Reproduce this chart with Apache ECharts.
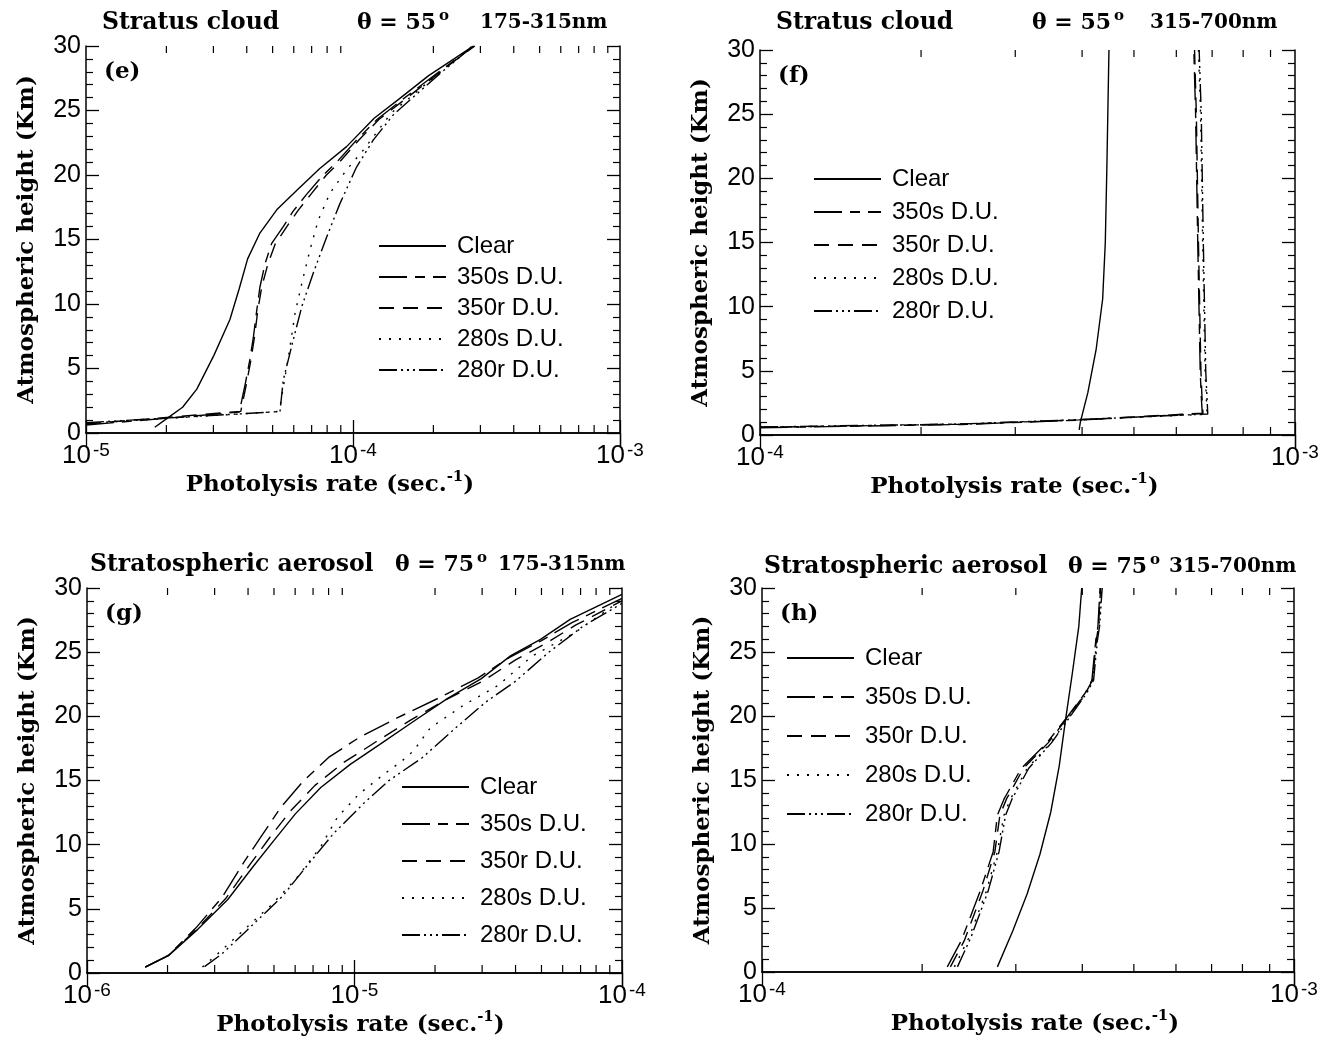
<!DOCTYPE html>
<html><head><meta charset="utf-8">
<script src="https://cdn.jsdelivr.net/npm/echarts@6/dist/echarts.min.js"></script>
<style>html,body{margin:0;padding:0;background:#fff}#c{width:1335px;height:1045px}</style>
</head><body><div id="c"></div>
<script>
// ---------- DATA ([photolysis rate, height km]) ----------
const seriesNames = ['Clear', '350s D.U.', '350r D.U.', '280s D.U.', '280r D.U.'];
const yTickLabels = [0, 5, 10, 15, 20, 25, 30];

// (e) Stratus cloud, 55 deg, 175-315nm
const e_clear = [[1.81e-5,0.45],[2.0e-5,1.1],[2.3e-5,2.0],[2.6e-5,3.4],[3.01e-5,6.0],[3.46e-5,8.8],[3.75e-5,11.2],[4.03e-5,13.5],[4.48e-5,15.5],[5.18e-5,17.3],[6.15e-5,18.8],[7.51e-5,20.5],[9.46e-5,22.2],[1.2e-4,24.4],[1.49e-4,25.9],[1.92e-4,27.7],[2.39e-4,29.0],[2.82e-4,30]];
const e_350s = [[1.0e-5,0.62],[3.75e-5,1.62],[3.8e-5,1.75],[3.94e-5,3.7],[4.11e-5,5.7],[4.24e-5,7.5],[4.36e-5,9.5],[4.48e-5,11.3],[4.68e-5,13.1],[4.96e-5,14.7],[5.48e-5,16.0],[5.97e-5,17.2],[6.7e-5,18.5],[7.74e-5,20.0],[8.69e-5,21.0],[1.03e-4,22.7],[1.23e-4,24.3],[1.52e-4,25.8],[1.95e-4,27.5],[2.4e-4,28.9],[2.84e-4,30]];
const e_350r = [[1.0e-5,0.7],[3.8e-5,1.68],[3.85e-5,1.8],[3.98e-5,3.7],[4.15e-5,5.7],[4.28e-5,7.5],[4.4e-5,9.5],[4.55e-5,11.3],[4.8e-5,13.1],[5.1e-5,14.6],[5.65e-5,16.0],[6.2e-5,17.2],[6.95e-5,18.5],[7.95e-5,20.0],[8.9e-5,21.0],[1.05e-4,22.7],[1.25e-4,24.3],[1.55e-4,25.8],[1.98e-4,27.5],[2.42e-4,28.9],[2.86e-4,30]];
const e_280s = [[1.0e-5,0.75],[5.18e-5,1.65],[5.33e-5,2.04],[5.73e-5,5.9],[6.07e-5,9.3],[6.43e-5,11.6],[6.9e-5,14.2],[7.41e-5,16.5],[8.2e-5,18.6],[9.46e-5,20.4],[1.09e-4,21.9],[1.39e-4,24.8],[1.72e-4,26.4],[2.07e-4,27.8],[2.8e-4,30]];
const e_280r = [[1.0e-5,0.8],[5.2e-5,1.65],[5.33e-5,1.7],[5.48e-5,4.1],[5.97e-5,7.2],[6.43e-5,9.8],[7.1e-5,12.4],[7.97e-5,15.2],[8.94e-5,17.8],[1.03e-4,20.6],[1.19e-4,22.7],[1.42e-4,24.7],[1.76e-4,26.4],[2.1e-4,27.8],[2.82e-4,30]];

// (f) Stratus cloud, 55 deg, 315-700nm
const f_clear = [[3.95e-4,0.4],[3.97e-4,1.0],[4.1e-4,3.3],[4.25e-4,6.7],[4.37e-4,10.6],[4.42e-4,15.0],[4.45e-4,20.9],[4.49e-4,30]];
const f_350s = [[1.0e-4,0.57],[2.38e-4,0.82],[3.95e-4,1.16],[6.71e-4,1.68],[6.68e-4,3.0],[6.65e-4,5.0],[6.58e-4,15.0],[6.52e-4,25.0],[6.47e-4,30]];
const f_350r = [[1.0e-4,0.6],[2.38e-4,0.84],[3.95e-4,1.18],[6.73e-4,1.7],[6.7e-4,3.0],[6.67e-4,5.0],[6.6e-4,15.0],[6.54e-4,25.0],[6.49e-4,30]];
const f_280s = [[1.0e-4,0.6],[2.38e-4,0.85],[3.95e-4,1.18],[6.85e-4,1.62],[6.84e-4,1.75],[6.79e-4,5.0],[6.72e-4,15.0],[6.66e-4,25.0],[6.6e-4,30]];
const f_280r = [[1.0e-4,0.62],[2.38e-4,0.86],[3.95e-4,1.2],[6.87e-4,1.64],[6.86e-4,1.75],[6.81e-4,5.0],[6.74e-4,15.0],[6.68e-4,25.0],[6.62e-4,30]];

// (g) Stratospheric aerosol, 75 deg, 175-315nm
const g_clear = [[1.65e-6,0.46],[2.02e-6,1.36],[2.6e-6,3.42],[3.36e-6,5.73],[4.18e-6,8.3],[5.01e-6,10.35],[6.01e-6,12.4],[7.48e-6,14.46],[9.64e-6,16.26],[1.24e-5,17.8],[1.66e-5,19.6],[2.23e-5,21.4],[2.98e-5,22.94],[3.84e-5,24.73],[4.96e-5,26.0],[6.4e-5,27.56],[1.0e-4,29.5]];
const g_350s = [[1.65e-6,0.46],[2.02e-6,1.4],[2.55e-6,3.5],[3.2e-6,5.9],[3.85e-6,8.6],[4.5e-6,10.7],[5.3e-6,12.9],[6.4e-6,14.9],[8.0e-6,16.8],[1.05e-5,18.4],[1.45e-5,19.9],[2.1e-5,21.5],[2.9e-5,23.0],[3.8e-5,24.6],[5.0e-5,25.9],[6.5e-5,27.3],[1.0e-4,29.2]];
const g_350r = [[1.65e-6,0.46],[2.02e-6,1.38],[2.58e-6,3.45],[3.3e-6,5.8],[4.05e-6,8.4],[4.8e-6,10.5],[5.75e-6,12.6],[7.1e-6,14.6],[9.1e-6,16.4],[1.2e-5,18.0],[1.62e-5,19.7],[2.2e-5,21.3],[3.05e-5,22.8],[4.0e-5,24.4],[5.2e-5,25.7],[6.7e-5,27.1],[1.0e-4,29.0]];
const g_280s = [[2.7e-6,0.46],[3.12e-6,1.6],[3.88e-6,3.4],[4.83e-6,5.2],[6.01e-6,7.27],[7.48e-6,9.84],[8.64e-6,12.15],[1.04e-5,13.95],[1.29e-5,15.5],[1.5e-5,16.5],[1.66e-5,17.3],[1.92e-5,19.1],[2.57e-5,20.9],[3.44e-5,22.4],[4.62e-5,24.7],[6.64e-5,26.5],[1.0e-4,29.1]];
const g_280r = [[2.75e-6,0.5],[3.2e-6,1.5],[3.95e-6,3.3],[5.39e-6,6.0],[6.46e-6,8.04],[8.34e-6,10.86],[1.08e-5,13.2],[1.34e-5,14.97],[1.79e-5,16.77],[2.39e-5,19.1],[3.09e-5,21.1],[3.98e-5,22.7],[5.33e-5,25.0],[7.13e-5,27.0],[1.0e-4,28.8]];

// (h) Stratospheric aerosol, 75 deg, 315-700nm
const h_clear = [[2.77e-4,0.4],[2.96e-4,3.2],[3.15e-4,6.1],[3.33e-4,9.2],[3.49e-4,12.5],[3.62e-4,16.1],[3.72e-4,19.7],[3.83e-4,23.3],[3.94e-4,27.0],[3.99e-4,30]];
const h_350s = [[2.23e-4,0.4],[2.37e-4,2.45],[2.57e-4,6.3],[2.72e-4,9.4],[2.77e-4,12.25],[2.85e-4,13.5],[3.07e-4,15.9],[3.43e-4,17.9],[3.76e-4,20.0],[4.05e-4,21.8],[4.17e-4,22.8],[4.24e-4,25.9],[4.28e-4,27.0],[4.32e-4,30]];
const h_350r = [[2.26e-4,0.4],[2.4e-4,2.45],[2.6e-4,6.3],[2.74e-4,9.4],[2.8e-4,12.25],[2.88e-4,13.5],[3.1e-4,15.9],[3.45e-4,17.9],[3.77e-4,20.0],[4.06e-4,21.8],[4.18e-4,22.8],[4.25e-4,25.9],[4.29e-4,27.0],[4.33e-4,30]];
const h_280s = [[2.3e-4,0.4],[2.45e-4,2.7],[2.64e-4,6.3],[2.77e-4,9.4],[2.85e-4,12.25],[2.93e-4,13.5],[3.15e-4,15.9],[3.49e-4,17.9],[3.79e-4,20.0],[4.07e-4,21.8],[4.18e-4,22.8],[4.26e-4,25.9],[4.3e-4,27.0],[4.35e-4,30]];
const h_280r = [[2.33e-4,0.4],[2.47e-4,2.7],[2.66e-4,6.3],[2.79e-4,9.4],[2.87e-4,12.25],[2.95e-4,13.5],[3.17e-4,15.9],[3.5e-4,17.9],[3.8e-4,20.0],[4.08e-4,21.8],[4.2e-4,22.8],[4.27e-4,25.9],[4.31e-4,27.0],[4.36e-4,30]];

const xRanges = { e: [1e-5, 1e-3], f: [1e-4, 1e-3], g: [1e-6, 1e-4], h: [1e-4, 1e-3] };

// ---------- STYLE / LAYOUT ----------
const SANS = 'Liberation Sans';
const SERIF = 'DejaVu Serif';
const dashes = ['solid', [28, 8, 10, 8], [15, 9], [2, 8], [18, 4, 2, 4, 2, 4, 2, 4]];
const panels = [
  { key: 'e', data: [e_clear, e_350s, e_350r, e_280s, e_280r], grid: { left: 86, top: 46, width: 534, height: 387 },
    titles: [['{w|Stratus cloud}', 102], ['{a|θ = 55}{s|o}', 357], ['{n|175-315nm}', 480]], titleTop: 9,
    legend: { left: 378, top: 234, gap: 7 }, xnamePad: [0, 46, 0, 0] },
  { key: 'f', data: [f_clear, f_350s, f_350r, f_280s, f_280r], grid: { left: 760, top: 50, width: 535, height: 385 },
    titles: [['{w|Stratus cloud}', 776], ['{a|θ = 55}{s|o}', 1032], ['{n|315-700nm}', 1150]], titleTop: 9,
    legend: { left: 813, top: 167, gap: 9 }, xnamePad: [0, 26, 0, 0] },
  { key: 'g', data: [g_clear, g_350s, g_350r, g_280s, g_280r], grid: { left: 87, top: 588, width: 535, height: 385 },
    titles: [['{w|Stratospheric aerosol}', 90], ['{a|θ = 75}{s|o}', 395], ['{n|175-315nm}', 498]], titleTop: 551,
    legend: { left: 401, top: 775, gap: 13 }, xnamePad: [0, 0, 0, 12] },
  { key: 'h', data: [h_clear, h_350s, h_350r, h_280s, h_280r], grid: { left: 762, top: 588, width: 532, height: 384 },
    titles: [['{w|Stratospheric aerosol}', 764], ['{a|θ = 75}{s|o}', 1068], ['{n|315-700nm}', 1169]], titleTop: 553,
    legend: { left: 786, top: 646, gap: 15 }, xnamePad: [0, 0, 0, 14] }
];

const grids = [], xAxes = [], yAxes = [], series = [], titles = [], legends = [];
const titleRich = {
  w: { fontFamily: SERIF, fontWeight: 'bold', fontSize: 23.5, color: '#000', lineHeight: 28 },
  a: { fontFamily: SERIF, fontWeight: 'bold', fontSize: 22, color: '#000', lineHeight: 28 },
  n: { fontFamily: SERIF, fontWeight: 'bold', fontSize: 20, color: '#000', lineHeight: 28 },
  s: { fontFamily: SERIF, fontWeight: 'bold', fontSize: 15, color: '#000', lineHeight: 15, verticalAlign: 'top', padding: [0, 0, 0, 3] }
};
const xLabelRich = {
  b: { fontFamily: SANS, fontSize: 26, color: '#000', lineHeight: 30 },
  s: { fontFamily: SANS, fontSize: 19, color: '#000', lineHeight: 16, verticalAlign: 'top', padding: [0, 0, 0, 2] }
};
const nameRich = {
  n: { fontFamily: SERIF, fontWeight: 'bold', fontSize: 23, color: '#000', lineHeight: 30 },
  s: { fontFamily: SERIF, fontWeight: 'bold', fontSize: 15, color: '#000', lineHeight: 15, verticalAlign: 'top' }
};
const axisLine = { show: true, lineStyle: { color: '#000', width: 1.5 } };

panels.forEach((p, i) => {
  grids.push(Object.assign({ show: false, outerBoundsMode: 'none' }, p.grid));
  const [xmin, xmax] = xRanges[p.key];
  xAxes.push({
    type: 'log', logBase: 10, gridIndex: i, min: xmin, max: xmax, position: 'bottom',
    axisLine, splitLine: { show: false },
    axisTick: { show: true, inside: true, length: 13, lineStyle: { color: '#000', width: 1.3 } },
    axisLabel: { margin: 8, formatter: v => '{b|10}{s|' + Math.round(Math.log10(v)) + '}', rich: xLabelRich },
    name: '{n|Photolysis rate (sec.}{s|-1}{n|)}', nameLocation: 'middle', nameGap: 34,
    nameTextStyle: { rich: nameRich, padding: p.xnamePad }
  });
  xAxes.push({
    type: 'log', logBase: 10, gridIndex: i, min: xmin, max: xmax, position: 'top',
    axisLine, splitLine: { show: false }, axisLabel: { show: false },
    axisTick: { show: true, inside: true, length: 13, lineStyle: { color: '#000', width: 1.3 } }
  });
  const yBase = {
    type: 'value', gridIndex: i, min: 0, max: 30, interval: 5, axisLine, splitLine: { show: false },
    axisTick: { show: true, inside: true, length: 13, lineStyle: { color: '#000', width: 1.3 } },
    minorTick: { show: true, splitNumber: 5, length: 7, lineStyle: { color: '#000', width: 1.2 } },
    minorSplitLine: { show: false }
  };
  yAxes.push(Object.assign({}, yBase, {
    position: 'left',
    axisLabel: { margin: 5, fontFamily: SANS, fontSize: 25, color: '#000', formatter: v => yTickLabels.includes(v) ? String(v) : '' },
    name: 'Atmospheric height (Km)', nameLocation: 'middle', nameGap: 47, nameRotate: 90,
    nameTextStyle: { fontFamily: SERIF, fontWeight: 'bold', fontSize: 23, color: '#000' }
  }));
  yAxes.push(Object.assign({}, yBase, { position: 'right', axisLabel: { show: false } }));

  p.data.forEach((d, k) => {
    series.push({
      type: 'line', name: seriesNames[k], xAxisIndex: 2 * i, yAxisIndex: 2 * i, data: d,
      symbol: 'none', smooth: false, clip: true, animation: false,
      lineStyle: { color: '#000', width: 1.4, type: dashes[k] }, itemStyle: { color: '#000' }
    });
  });

  const minorVals = [];
  for (let e = Math.round(Math.log10(xmin)); e < Math.round(Math.log10(xmax)); e++) {
    for (let m = 2; m <= 9; m++) minorVals.push([m * Math.pow(10, e), 0]);
  }
  series.push({
    type: 'custom', xAxisIndex: 2 * i, yAxisIndex: 2 * i, data: minorVals, silent: true, clip: false, animation: false,
    renderItem: (params, api) => {
      const v = api.value(0);
      const b = api.coord([v, 0]);
      const t = api.coord([v, 30]);
      const st = { stroke: '#000', lineWidth: 1.2 };
      return { type: 'group', children: [
        { type: 'line', shape: { x1: b[0], y1: b[1], x2: b[0], y2: b[1] - 8 }, style: st },
        { type: 'line', shape: { x1: t[0], y1: t[1], x2: t[0], y2: t[1] + 7 }, style: st }
      ] };
    }
  });

  p.titles.forEach(([txt, left]) => {
    titles.push({ text: txt, left, top: p.titleTop, padding: 0, textStyle: { rich: titleRich } });
  });
  titles.push({ text: '(' + p.key + ')', left: p.grid.left + 18, top: p.grid.top + 15, padding: 0,
    textStyle: { fontFamily: SERIF, fontWeight: 'bold', fontSize: 23, color: '#000' } });

  legends.push({
    data: seriesNames, orient: 'vertical', left: p.legend.left, top: p.legend.top, itemGap: p.legend.gap,
    itemWidth: 67, itemHeight: 14, padding: 0, selectedMode: false,
    itemStyle: { opacity: 0, borderWidth: 0 },
    textStyle: { fontFamily: SANS, fontSize: 24, color: '#000', lineHeight: 24, padding: [0, 0, 0, 6] }
  });
});

const chart = echarts.init(document.getElementById('c'), null, { renderer: 'canvas' });
chart.setOption({
  backgroundColor: '#fff', animation: false,
  grid: grids, xAxis: xAxes, yAxis: yAxes, series, title: titles, legend: legends
});
</script></body></html>
